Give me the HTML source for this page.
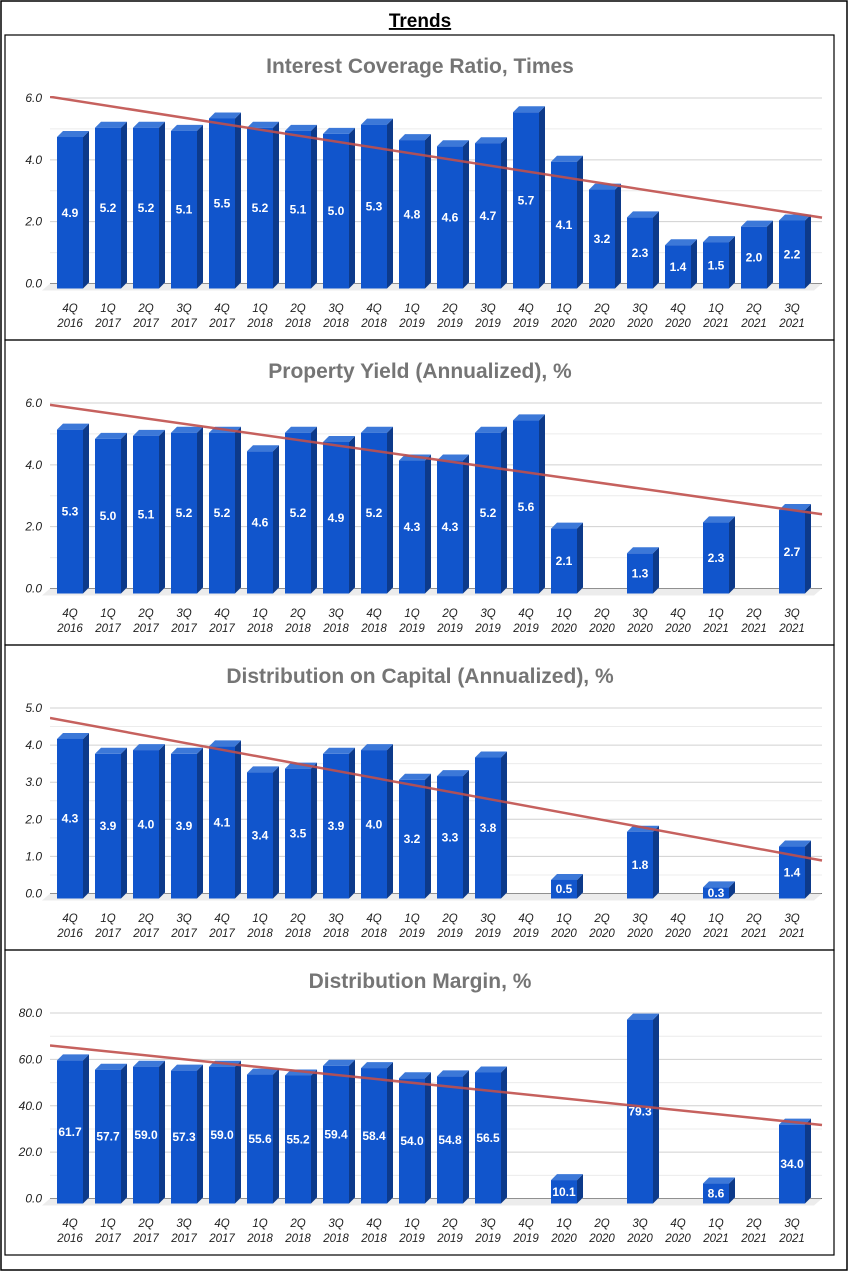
<!DOCTYPE html>
<html><head><meta charset="utf-8"><style>
body{margin:0;background:#fff;width:851px;height:1274px;overflow:hidden;font-family:"Liberation Sans",sans-serif}
</style></head><body>
<svg id="s" width="851" height="1274" xmlns="http://www.w3.org/2000/svg">
<rect x="1" y="1" width="846" height="1269" fill="none" stroke="#000" stroke-width="1.5"/>
<text x="420" y="27" text-anchor="middle" font-size="19" font-weight="bold" text-decoration="underline">Trends</text>
</svg>
<script>
const categories=["4Q 2016","1Q 2017","2Q 2017","3Q 2017","4Q 2017","1Q 2018","2Q 2018","3Q 2018","4Q 2018","1Q 2019","2Q 2019","3Q 2019","4Q 2019","1Q 2020","2Q 2020","3Q 2020","4Q 2020","1Q 2021","2Q 2021","3Q 2021"];
const coverageValues=[4.9,5.2,5.2,5.1,5.5,5.2,5.1,5.0,5.3,4.8,4.6,4.7,5.7,4.1,3.2,2.3,1.4,1.5,2.0,2.2];
const yieldValues=[5.3,5.0,5.1,5.2,5.2,4.6,5.2,4.9,5.2,4.3,4.3,5.2,5.6,2.1,null,1.3,null,2.3,null,2.7];
const distCapValues=[4.3,3.9,4.0,3.9,4.1,3.4,3.5,3.9,4.0,3.2,3.3,3.8,null,0.5,null,1.8,null,0.3,null,1.4];
const marginValues=[61.7,57.7,59.0,57.3,59.0,55.6,55.2,59.4,58.4,54.0,54.8,56.5,null,10.1,null,79.3,null,8.6,null,34.0];
const coverageTicks=["0.0","2.0","4.0","6.0"];
const yieldTicks=["0.0","2.0","4.0","6.0"];
const distCapTicks=["0.0","1.0","2.0","3.0","4.0","5.0"];
const marginTicks=["0.0","20.0","40.0","60.0","80.0"];
const coverageTrend=[6.04,2.13];
const yieldTrend=[5.94,2.4];
const distCapTrend=[4.73,0.89];
const marginTrend=[66,31.7];
const titles=["Interest Coverage Ratio, Times","Property Yield (Annualized), %","Distribution on Capital (Annualized), %","Distribution Margin, %"];

const NS="http://www.w3.org/2000/svg";
const svg=document.getElementById('s');
function mk(tag,attrs,parent){const e=document.createElementNS(NS,tag);for(const k in attrs)e.setAttribute(k,attrs[k]);(parent||svg).appendChild(e);return e;}

function chart(idx,top,values,ticks,trend,name){
  const g=mk('g',{});
  
  
  const box=mk('rect',{x:5,y:top,width:829,height:305,fill:'none',stroke:'#000','stroke-width':1.2},g);
  
  
  const t=mk('text',{x:420,y:top+38,'text-anchor':'middle','font-size':21,'font-weight':'bold',fill:'#757575'},g);
  t.textContent=titles[idx];
  
  
  const yMax=parseFloat(ticks[ticks.length-1]);
  const yTop=top+63, yZero=top+248.5, left=50, right=822;
  const ys=v=>yZero-(v/yMax)*(yZero-yTop);
  const step=parseFloat(ticks[1]);
  for(let v=step/2; v<yMax; v+=step){
    const l=mk('line',{x1:left,x2:right,y1:ys(v),y2:ys(v),stroke:'#ececec','stroke-width':1},g);
    
    
  }
  ticks.forEach(tk=>{
    const v=parseFloat(tk);
    const l=mk('line',{x1:left,x2:right,y1:ys(v),y2:ys(v),stroke:v===0?'#333':'#d0d0d0','stroke-width':1},g);
    
    
    const tt=mk('text',{x:42,y:ys(v)+4,'text-anchor':'end','font-size':12,'font-style':'italic',fill:'#222'},g);
    tt.textContent=tk;
    
    
  });
  const floor=mk('polygon',{points:`${left},${yZero} ${right},${yZero} ${right-8},${yZero+7} ${left-8},${yZero+7}`,fill:'#ececec'},g);
  
  
  const sp=38, x0=70, bw=26, d=6;
  categories.forEach((c,i)=>{
    const cx=x0+i*sp;
    const parts=c.split(' ');
    const l1=mk('text',{x:cx,y:top+277,'text-anchor':'middle','font-size':11.5,'font-style':'italic',fill:'#222'},g);
    l1.textContent=parts[0];
    
    
    const l2=mk('text',{x:cx,y:top+292,'text-anchor':'middle','font-size':11.5,'font-style':'italic',fill:'#222'},g);
    l2.textContent=parts[1];
    
    
    const v=values[i];
    if(v===null)return;
    const bx=cx-bw/2, bb=yZero+5, bt=ys(v)+5;
    const bg=mk('g',{},g);
    
    
    mk('polygon',{points:`${bx+bw},${bt} ${bx+bw+d},${bt-6} ${bx+bw+d},${bb-6} ${bx+bw},${bb}`,fill:'#0d3a8a'},bg);
    mk('polygon',{points:`${bx},${bt} ${bx+d},${bt-6} ${bx+bw+d},${bt-6} ${bx+bw},${bt}`,fill:'#3c78d8'},bg);
    mk('rect',{x:bx,y:bt,width:bw,height:bb-bt,fill:'#1155cc'},bg);
    const vl=mk('text',{x:cx,y:(bt+bb)/2+4,'text-anchor':'middle','font-size':12,'font-weight':'bold',fill:'#fff'},bg);
    vl.textContent=v.toFixed(1);
    
    
  });
  const cid='clip'+idx;
  const cp=mk('clipPath',{id:cid},g);
  mk('rect',{x:left,y:yTop-2,width:right-left+2,height:yZero-yTop+10},cp);
  const tl=mk('line',{x1:left,x2:right,y1:ys(trend[0]),y2:ys(trend[1]),stroke:'#c0504d','stroke-width':2.5,'stroke-opacity':0.9,'clip-path':`url(#${cid})`},g);
  
  
}
chart(0,35,coverageValues,coverageTicks,coverageTrend,'interest-coverage');
chart(1,340,yieldValues,yieldTicks,yieldTrend,'property-yield');
chart(2,645,distCapValues,distCapTicks,distCapTrend,'distribution-on-capital');
chart(3,950,marginValues,marginTicks,marginTrend,'distribution-margin');
</script>
</body></html>
